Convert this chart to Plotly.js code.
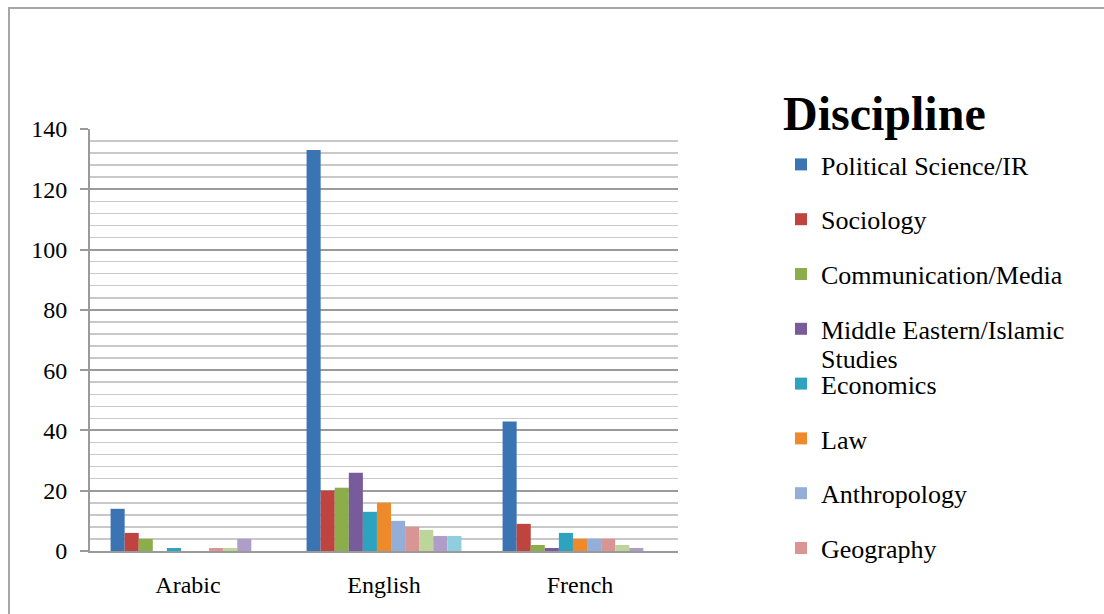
<!DOCTYPE html>
<html>
<head>
<meta charset="utf-8">
<script src="https://cdn.plot.ly/plotly-3.0.1.min.js"></script>
<style>
  html, body { margin: 0; padding: 0; background: #fff; }
  #chart { position: absolute; left: 0; top: 0; width: 1104px; height: 614px; }
  #frame { position: absolute; left: 8px; top: 7px; width: 1110px; height: 620px;
           border-left: 2px solid #a6a6a6; border-top: 2px solid #a6a6a6; pointer-events: none; }
</style>
</head>
<body>
<div id="chart"></div>
<div id="frame"></div>
<script>
// Categories (language of publication)
const languages = ["Arabic", "English", "French"];

// Series (disciplines)
const politicalScience = [14, 133, 43];
const sociology        = [6, 20, 9];
const communication    = [4, 21, 2];
const middleEastern    = [0, 26, 1];
const economics        = [1, 13, 6];
const law              = [0, 16, 4];
const anthropology     = [0, 10, 4];
const geography        = [1, 8, 4];
const discipline9      = [1, 7, 2];
const discipline10     = [4, 5, 1];
const discipline11     = [0, 5, 0];

const seriesNames = ["Political Science/IR", "Sociology", "Communication/Media",
  "Middle Eastern/Islamic", "Economics", "Law", "Anthropology", "Geography",
  "Discipline 9", "Discipline 10", "Discipline 11"];
const seriesValues = [politicalScience, sociology, communication, middleEastern,
  economics, law, anthropology, geography, discipline9, discipline10, discipline11];
const seriesColors = ["#3a74b2", "#bf433e", "#8cae4a", "#775b9a", "#2ea3bf", "#ee8a2a",
  "#93afd9", "#d99593", "#bdd49b", "#ae9dc9", "#8ecedf"];
const inLegend = [true, true, true, true, true, true, true, true, false, false, false];

const legendTitle = "Discipline";
const wrappedLine = "Studies";

const FONT = "Liberation Serif, Times New Roman, serif";

const traces = seriesNames.map((n, i) => ({
  type: "bar",
  name: n,
  x: languages,
  y: seriesValues[i],
  marker: { color: seriesColors[i], line: { width: 0 } },
  showlegend: inLegend[i],
  legendgroup: "g" + i,
  hoverinfo: "x+y+name"
}));

const L = 90, R = 678, T = 129, B = 551;
const W = 1104, H = 614;
const pw = R - L, ph = B - T;
const px = v => (v - L) / pw;
const py = v => (B - v) / ph;

const layout = {
  width: W, height: H,
  margin: { l: L, r: W - R, t: T, b: H - B, pad: 0 },
  paper_bgcolor: "#ffffff",
  plot_bgcolor: "#ffffff",
  font: { family: FONT, color: "#000" },
  barmode: "group",
  bargap: 0.21,
  bargroupgap: 0,
  xaxis: {
    type: "category",
    showgrid: false,
    showline: true, linecolor: "#9a9a9a", linewidth: 2,
    ticks: "",
    tickfont: { family: FONT, size: 24, color: "#000" },
    ticklabelstandoff: 11,
    fixedrange: true
  },
  yaxis: {
    range: [0, 140],
    dtick: 20,
    tick0: 0,
    showgrid: true, gridcolor: "#9a9a9a", gridwidth: 2,
    zeroline: false,
    showline: true, linecolor: "#9a9a9a", linewidth: 2,
    ticks: "outside", ticklen: 8, tickcolor: "#9a9a9a", tickwidth: 2,
    tickfont: { family: FONT, size: 24, color: "#000" },
    ticklabelstandoff: 8,
    minor: { dtick: 4, showgrid: true, gridcolor: "#c8c8c8", gridwidth: 1.5, ticks: "" },
    fixedrange: true
  },
  legend: {
    x: px(781), xanchor: "left",
    y: py(141), yanchor: "top",
    traceorder: "grouped",
    tracegroupgap: 18,
    maxheight: 600,
    font: { family: FONT, size: 26, color: "#000" },
    bgcolor: "rgba(0,0,0,0)",
    itemclick: false, itemdoubleclick: false
  },
  annotations: [
    {
      xref: "paper", yref: "paper",
      x: px(781), y: py(114), xanchor: "left", yanchor: "middle",
      text: "<b>" + legendTitle + "</b>", showarrow: false,
      font: { family: FONT, size: 48, color: "#000" }
    },
    {
      xref: "paper", yref: "paper",
      x: px(819), y: py(359), xanchor: "left", yanchor: "middle",
      text: wrappedLine, showarrow: false,
      font: { family: FONT, size: 26, color: "#000" }
    }
  ],
  showlegend: true
};

Plotly.newPlot("chart", traces, layout, { displayModeBar: false, staticPlot: true });
</script>
</body>
</html>
